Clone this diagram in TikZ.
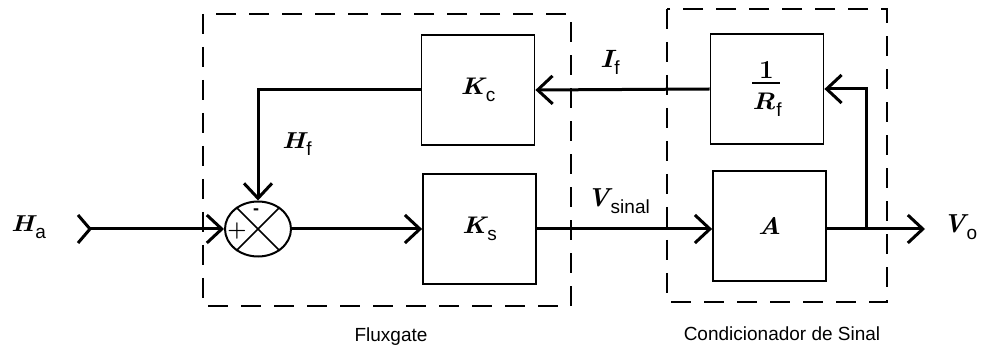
\documentclass[tikz,border=0pt]{standalone}
\usepackage{graphicx}
\usepackage{fontspec}
\setsansfont{Liberation Sans}
\usetikzlibrary{arrows.meta,shapes.geometric}
\newcommand\symbs[3]{\scalebox{#1}[1]{\bfseries\itshape #2}\kern1pt\raisebox{-7pt}{\sffamily\fontsize{19}{19}\selectfont #3}}
\newcommand\symb[2]{\symbs{1.12}{#1}{#2}}
\newcommand\fracRf{\vbox{\hbox to 28pt{\hss\bfseries\fontsize{26}{26}\selectfont 1\hss}\kern3pt\hrule height 2pt width 28pt\kern9pt\hbox{\symb{R}{f}}}}
\begin{document}
\begin{tikzpicture}[x=1pt,y=-1pt,
  blk/.style={draw, line width=1.8pt, minimum width=113pt, minimum height=110pt, inner sep=0pt, font=\fontsize{24}{28}\selectfont},
  sumj/.style={ellipse, draw, line width=2pt, minimum width=66pt, minimum height=55pt, inner sep=0pt},
  conn/.style={line width=3pt, -{Straight Barb[length=15pt,width=28pt]}},
  wire/.style={line width=3pt},
  grp/.style={dash pattern=on 20pt off 13pt, line width=2pt},
  lblH/.style={anchor=base west, inner sep=0pt, font=\fontsize{23}{26}\selectfont},
  lblI/.style={anchor=base west, inner sep=0pt, font=\fontsize{25}{30}\selectfont},
  lblV/.style={anchor=base west, inner sep=0pt, font=\fontsize{26}{32}\selectfont},
  capt/.style={inner sep=0pt, font=\sffamily\fontsize{19}{22}\selectfont},
  sgn/.style={inner sep=0pt, font=\bfseries\fontsize{22}{24}\selectfont}]
\useasboundingbox (0,0) rectangle (984,352);
% group frames
\draw[grp] (203,14) rectangle (571,306);
\draw[grp] (667,9) rectangle (887,302);
% blocks
\node[blk] (kc) at (478,90) {\symb{K}{c}};
\node[blk] (ks) at (479.5,229) {\symb{K}{s}};
\node[blk] (rf) at (767,89) {\fracRf};
\node[blk] (amp) at (769.5,226) {\scalebox{1.12}[1]{\bfseries\itshape A}};
\node[sumj] (sum) at (258,229) {};
\draw[line width=1.5pt] (sum.45) -- (sum.225) (sum.135) -- (sum.315);
\node[sgn] (plus) at (237,231) {+};
\node[sgn] (minus) at (256,212) {\sffamily\fontsize{18}{20}\selectfont -};
% coordinates
\coordinate (hin) at (90,229);
\coordinate (tap) at (866,229);
\coordinate (vo) at (925,229);
% connectors
\draw[wire] ([xshift=-12pt,yshift=-14pt]hin) -- (hin) -- ([xshift=-12pt,yshift=14pt]hin);
\draw[conn] (hin) -- (sum.west);
\draw[conn] (sum.east) -- (ks.west);
\draw[conn] (ks.east) -- (ks.east -| amp.west);
\draw[conn] (ks.east -| amp.east) -- (vo);
\draw[conn] (tap) |- (rf.east);
\draw[conn] (rf.west) -- (kc.east);
\draw[conn] (kc.west) -| (sum.north);
% labels
\node[lblH] (ha) at (11,232) {\symb{H}{a}};
\node[lblH] (hf) at (282,149) {\symb{H}{f}};
\node[lblI] (if) at (600,68) {\symb{I}{f}};
\node[lblV] (vs) at (587,207) {\symbs{1}{V}{sinal}};
\node[lblV] (vol) at (943,233) {\symbs{1}{V}{o}};
\node[capt] (c1) at (391,337) {Fluxgate};
\node[capt] (c2) at (782,334) {Condicionador de Sinal};
\end{tikzpicture}
\end{document}
